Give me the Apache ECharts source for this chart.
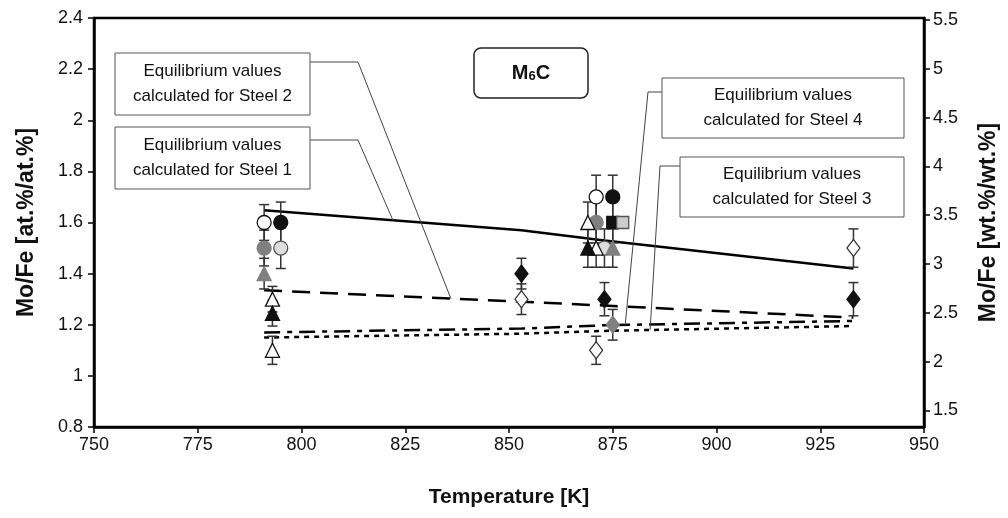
<!DOCTYPE html>
<html><head><meta charset="utf-8">
<script src="https://cdn.jsdelivr.net/npm/echarts@6/dist/echarts.min.js"></script>
<style>html,body{margin:0;padding:0;background:#fff}#c{width:1008px;height:518px}</style>
</head><body><div id="c"></div>
<script>
// Axes
const xMin = 750, xMax = 950, xStep = 25;
const yLeftMin = 0.8, yLeftMax = 2.4, yLeftStep = 0.2;
const yRightMin = 1.33, yRightMax = 5.52;
const rightTicks = [1.5, 2, 2.5, 3, 3.5, 4, 4.5, 5, 5.5];

// Calculated equilibrium lines [T, Mo/Fe]
const calcSteel1 = [[791, 1.648], [853, 1.57], [873, 1.53], [933, 1.42]];
const calcSteel2 = [[791, 1.335], [853, 1.29], [873, 1.275], [933, 1.228]];
const calcSteel4 = [[791, 1.17], [853, 1.185], [873, 1.198], [933, 1.215]];
const calcSteel3 = [[791, 1.15], [853, 1.165], [873, 1.176], [933, 1.195]];

// Measured points [T, Mo/Fe, error]
const openCircle = [[791, 1.6, 0.07], [871, 1.7, 0.085]];
const blackCircle = [[795, 1.6, 0.08], [875, 1.7, 0.085]];
const grayCircle = [[791, 1.5, 0.07], [871, 1.6, 0.08]];
const lightCircle = [[795, 1.5, 0.08], [873, 1.5, 0.075]];
const grayTriangle = [[791, 1.4, 0.06], [875, 1.5, 0.075]];
const openTriangle = [[793, 1.3, 0.05], [793, 1.1, 0.055], [869, 1.6, 0.08], [871, 1.5, 0.075]];
const blackTriangle = [[793, 1.245, 0.05], [869, 1.5, 0.075]];
const blackSquare = [[875, 1.6, 0.08]];
const lightSquare = [[877.4, 1.6, 0]];
const blackDiamond = [[853, 1.4, 0.06], [873, 1.3, 0.065], [933, 1.3, 0.065]];
const openDiamond = [[853, 1.3, 0.06], [871, 1.1, 0.055], [933, 1.5, 0.075]];
const grayDiamond = [[875, 1.2, 0.06]];

// Annotation anchors on the calculated lines [T, Mo/Fe]
const anchorSteel2 = [836, 1.302];
const anchorSteel1 = [822, 1.61];
const anchorSteel4 = [878, 1.20];
const anchorSteel3 = [884, 1.18];

const allPoints = [].concat(openCircle, blackCircle, grayCircle, lightCircle, grayTriangle,
  openTriangle, blackTriangle, blackSquare, lightSquare, blackDiamond, openDiamond, grayDiamond);

const chart = echarts.init(document.getElementById('c'), null, {renderer: 'canvas'});
const FONT = 'Liberation Sans, Arial, sans-serif';

function lineSeries(data, type) {
  return {type: 'line', data: data, symbol: 'none', silent: true, z: 2,
    lineStyle: {color: '#000', width: 2.5, type: type}};
}
function scatter(data, symbol, fill, stroke, size) {
  return {type: 'scatter', data: data, symbol: symbol, symbolSize: size || 14, z: 5,
    itemStyle: {color: fill, borderColor: stroke, borderWidth: 1.3, opacity: 1}};
}

const option = {
  backgroundColor: '#fff',
  animation: false,
  grid: {left: 94, right: 83, top: 18, bottom: 91, show: true, borderColor: '#000', borderWidth: 2.5, backgroundColor: 'transparent'},
  xAxis: {
    type: 'value', min: xMin, max: xMax, interval: xStep,
    axisLine: {lineStyle: {color: '#000', width: 2.5}},
    axisTick: {lineStyle: {color: '#000', width: 1.5}, length: 6},
    axisLabel: {color: '#111', fontSize: 18, fontFamily: FONT, margin: 9},
    splitLine: {show: false},
    name: 'Temperature [K]', nameLocation: 'middle', nameGap: 60,
    nameTextStyle: {color: '#111', fontSize: 21, fontWeight: 'bold', fontFamily: FONT}
  },
  yAxis: [{
    type: 'value', min: yLeftMin, max: yLeftMax, interval: yLeftStep,
    axisLine: {show: true, lineStyle: {color: '#000', width: 2.5}},
    axisTick: {show: true, lineStyle: {color: '#000', width: 1.5}, length: 6},
    axisLabel: {color: '#111', fontSize: 18, fontFamily: FONT, margin: 11},
    splitLine: {show: false},
    name: 'Mo/Fe [at.%/at.%]', nameLocation: 'middle', nameGap: 56, nameRotate: 90,
    nameTextStyle: {color: '#111', fontSize: 23, fontWeight: 'bold', fontFamily: FONT}
  }, {
    type: 'value', position: 'right', min: yRightMin, max: yRightMax,
    axisLine: {show: true, lineStyle: {color: '#000', width: 2.5}},
    axisTick: {show: true, lineStyle: {color: '#000', width: 1.5}, length: 6, customValues: rightTicks},
    axisLabel: {color: '#111', fontSize: 18, fontFamily: FONT, margin: 9, customValues: rightTicks},
    splitLine: {show: false},
    name: 'Mo/Fe [wt.%/wt.%]', nameLocation: 'middle', nameGap: 53, nameRotate: 90,
    nameTextStyle: {color: '#111', fontSize: 23, fontWeight: 'bold', fontFamily: FONT}
  }],
  series: [
    lineSeries(calcSteel1, 'solid'),
    lineSeries(calcSteel2, [18, 10]),
    lineSeries(calcSteel4, [16, 7, 5, 7]),
    lineSeries(calcSteel3, [5, 5]),
    {
      type: 'custom', data: allPoints, z: 3, silent: true,
      renderItem: function (params, api) {
        const x = api.value(0), v = api.value(1), e = api.value(2);
        if (!e) return null;
        const hi = api.coord([x, v + e]), lo = api.coord([x, v - e]);
        const w = 5, st = {stroke: '#333', lineWidth: 1.5};
        return {type: 'group', children: [
          {type: 'line', shape: {x1: hi[0], y1: hi[1], x2: lo[0], y2: lo[1]}, style: st},
          {type: 'line', shape: {x1: hi[0] - w, y1: hi[1], x2: hi[0] + w, y2: hi[1]}, style: st},
          {type: 'line', shape: {x1: lo[0] - w, y1: lo[1], x2: lo[0] + w, y2: lo[1]}, style: st}
        ]};
      }
    },
    scatter(openCircle, 'circle', '#fff', '#111', 14),
    scatter(blackCircle, 'circle', '#111', '#111', 14),
    scatter(grayCircle, 'circle', '#808080', '#808080', 14),
    scatter(lightCircle, 'circle', '#ddd', '#555', 14),
    scatter(grayTriangle, 'triangle', '#808080', '#808080', 14),
    scatter(openTriangle, 'triangle', '#fff', '#111', 14),
    scatter(blackTriangle, 'triangle', '#111', '#111', 14),
    scatter(blackSquare, 'rect', '#111', '#111', 12),
    scatter(lightSquare, 'rect', '#ccc', '#555', 12),
    scatter(blackDiamond, 'diamond', '#111', '#111', [13, 17]),
    scatter(openDiamond, 'diamond', '#fff', '#333', [13, 17]),
    scatter(grayDiamond, 'diamond', '#808080', '#808080', [13, 17])
  ]
};
chart.setOption(option);

function px(p) { return chart.convertToPixel({xAxisIndex: 0, yAxisIndex: 0}, p); }
function box(x, y, w, h, text, r) {
  return [{type: 'rect', shape: {x: x, y: y, width: w, height: h, r: r || 0}, z: 10,
    style: {fill: '#fff', stroke: '#555', lineWidth: 1}},
    {type: 'text', x: x + w / 2, y: y + h / 2, z: 11,
      style: {text: text, fill: '#111', font: '17px ' + FONT, align: 'center', verticalAlign: 'middle', lineHeight: 25}}];
}
function leader(points) {
  return {type: 'polyline', shape: {points: points}, z: 9, style: {stroke: '#444', lineWidth: 1, fill: null}};
}
const a2 = px(anchorSteel2), a1 = px(anchorSteel1), a4 = px(anchorSteel4), a3 = px(anchorSteel3);
const elements = [].concat(
  [leader([[310, 62], [358, 62], a2]), leader([[310, 140], [358, 140], a1]),
   leader([[662, 92], [648, 92], a4]), leader([[680, 166], [660, 166], a3])],
  box(115, 53, 195, 62, 'Equilibrium values\ncalculated for Steel 2'),
  box(115, 127, 195, 62, 'Equilibrium values\ncalculated for Steel 1'),
  box(662, 78, 242, 60, 'Equilibrium values\ncalculated for Steel 4'),
  box(680, 157, 224, 60, 'Equilibrium values\ncalculated for Steel 3'),
  [{type: 'rect', shape: {x: 474, y: 48, width: 114, height: 50, r: 7}, z: 10,
    style: {fill: '#fff', stroke: '#222', lineWidth: 1.5}},
   {type: 'text', x: 531, y: 73, z: 11,
    style: {rich: {b: {font: 'bold 20px ' + FONT, fill: '#111'}, s: {font: 'bold 13px ' + FONT, fill: '#111', verticalAlign: 'bottom', padding: [6, 0, 0, 0]}},
      text: '{b|M}{s|6}{b|C}', align: 'center', verticalAlign: 'middle'}}]
);
chart.setOption({graphic: {elements: elements}});
</script></body></html>
